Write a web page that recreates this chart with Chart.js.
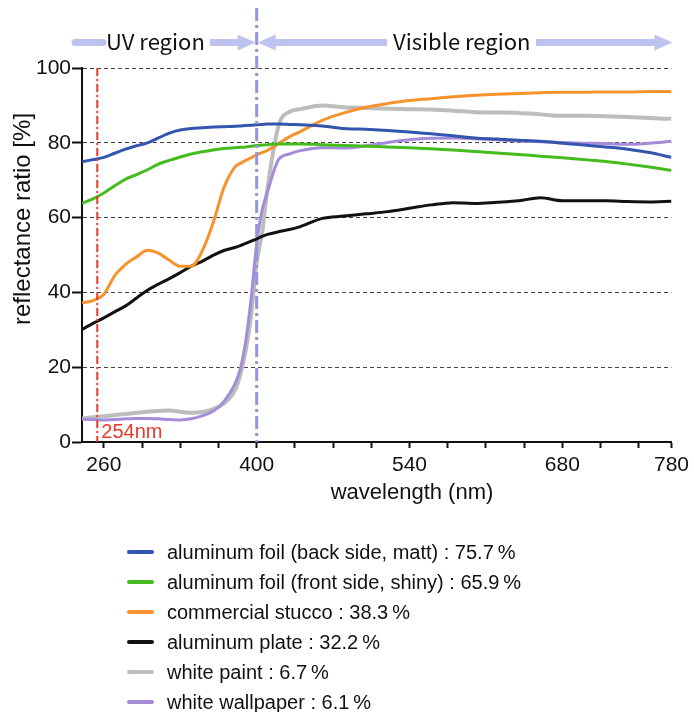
<!DOCTYPE html>
<html>
<head>
<meta charset="utf-8">
<script src="https://cdn.jsdelivr.net/npm/chart.js@4.4.1/dist/chart.umd.min.js"></script>
<style>
  html, body { margin: 0; padding: 0; background: #fff; }
  #wrap { position: relative; width: 694px; height: 712px; }
  #legend { position: absolute; left: 127px; top: 537px; font-family: "Liberation Sans", Arial, sans-serif; font-size: 20px; color: #111; }
  #legend div { height: 30px; display: flex; align-items: center; white-space: nowrap; }
  #legend .sw { display: inline-block; width: 27px; height: 4px; border-radius: 2px; margin-right: 13px; }
</style>
</head>
<body>
<div id="wrap">
  <canvas id="myChart" width="694" height="712"></canvas>
  <div id="legend"></div>
</div>
<script>
// wavelength (nm)
var wavelengths = [240,250,260,270,280,290,300,310,320,330,340,350,360,370,380,385,390,395,400,405,410,420,430,440,460,480,500,520,540,560,580,600,620,640,660,680,700,720,740,760,780];

// reflectance ratio (%)
var foilBack  = [74.9,75.5,76.1,77.2,78.3,79.2,80.0,81.3,82.6,83.4,83.8,84.0,84.2,84.3,84.4,84.5,84.6,84.7,84.8,84.9,85.0,85.0,84.9,84.8,84.5,83.8,83.6,83.3,82.9,82.4,81.9,81.3,81.0,80.7,80.4,79.9,79.4,78.9,78.3,77.4,76.1];
var foilFront = [63.8,65.0,66.6,68.5,70.3,71.5,72.8,74.3,75.3,76.2,77.0,77.6,78.1,78.5,78.7,78.8,78.9,79.1,79.3,79.4,79.5,79.7,79.7,79.7,79.5,79.3,79.1,78.9,78.7,78.4,78.1,77.7,77.3,76.9,76.4,76.0,75.5,75.0,74.3,73.5,72.6];
var stucco    = [37.2,37.8,39.5,44.5,47.5,49.5,51.3,50.5,48.6,47.0,47.0,51.0,58.5,68.0,73.5,74.5,75.3,76.0,76.8,77.4,78.0,79.8,81.6,83.0,86.0,88.0,89.5,90.5,91.3,91.8,92.3,92.7,93.0,93.2,93.4,93.5,93.5,93.6,93.6,93.7,93.7];
var alPlate   = [30.1,31.7,33.2,34.8,36.4,38.5,40.6,42.2,43.7,45.3,47.0,48.3,49.9,51.2,52.0,52.5,53.1,53.7,54.3,55.0,55.5,56.2,56.8,57.6,59.8,60.4,61.0,61.6,62.5,63.4,64.0,63.8,64.1,64.5,65.3,64.5,64.5,64.5,64.3,64.2,64.4];
var whitePaint = [6.3,6.6,6.9,7.2,7.5,7.8,8.1,8.3,8.4,8.1,7.8,8.0,8.8,10.3,13.8,18.0,24.5,34.0,48.0,56.0,68.0,84.5,88.3,89.0,90.0,89.5,89.3,89.1,89.0,88.9,88.6,88.2,88.1,88.0,87.6,87.2,87.2,87.1,86.9,86.6,86.4];
var wallpaper = [6.1,6.0,5.9,6.0,6.2,6.3,6.3,6.2,6.0,5.9,6.2,7.0,8.2,10.8,15.5,19.5,27.0,38.5,53.0,62.0,67.0,75.5,77.0,77.9,78.7,78.6,79.2,80.1,80.8,81.2,81.3,81.1,80.8,80.5,80.3,80.1,79.9,79.8,79.6,79.9,80.4];

var labels = [
  "aluminum foil (back side, matt) : 75.7\u2009%",
  "aluminum foil (front side, shiny) : 65.9\u2009%",
  "commercial stucco : 38.3\u2009%",
  "aluminum plate : 32.2\u2009%",
  "white paint : 6.7\u2009%",
  "white wallpaper : 6.1\u2009%"
];
var colors = ["#3256ad", "#46bb1d", "#f7922c", "#111111", "#bdbdbd", "#a58cd9"];

var xTicks = [260,295,330,365,400,435,470,505,540,575,610,645,680,715,750,780];
var xTickLabels = [260,400,540,680,780];
var yTicks = [0,20,40,60,80,100];
var uvLine = 254;
var visibleStart = 400;

var FONT = '"Liberation Sans", Arial, sans-serif';

function toPoints(values) {
  return values.map(function(v, i){ return {x: wavelengths[i], y: v}; });
}

var series = [foilBack, foilFront, stucco, alPlate, whitePaint, wallpaper];
var datasets = series.map(function(s, i){
  return {
    label: labels[i],
    data: toPoints(s),
    borderColor: colors[i],
    backgroundColor: colors[i],
    borderWidth: i == 4 ? 4 : 3,
    cubicInterpolationMode: 'monotone',
    pointRadius: 0,
    order: i == 5 ? 3.5 : i
  };
});

function dashLine(ctx, x, y1, y2, color, width, dash) {
  ctx.save();
  ctx.strokeStyle = color;
  ctx.lineWidth = width;
  ctx.setLineDash(dash);
  ctx.beginPath();
  ctx.moveTo(x, y1);
  ctx.lineTo(x, y2);
  ctx.stroke();
  ctx.restore();
}

function arrowHead(ctx, tipX, y, dir) {
  ctx.beginPath();
  ctx.moveTo(tipX, y);
  ctx.lineTo(tipX - dir * 18, y - 8);
  ctx.lineTo(tipX - dir * 18, y + 8);
  ctx.closePath();
  ctx.fill();
}

function shaft(ctx, x1, x2, y) {
  ctx.beginPath();
  ctx.moveTo(x1, y);
  ctx.lineTo(x2, y);
  ctx.stroke();
}

var annotations = {
  id: 'annotations',
  afterDatasetsDraw: function(chart) {
    var ctx = chart.ctx;
    var xs = chart.scales.x;
    var area = chart.chartArea;
    var xUv = xs.getPixelForValue(uvLine);
    var xVis = xs.getPixelForValue(visibleStart);

    // 254 nm marker
    dashLine(ctx, xUv, area.top, area.bottom, '#e53b2a', 2, [8, 3, 2, 3]);
    ctx.save();
    ctx.fillStyle = '#e53b2a';
    ctx.font = '20px ' + FONT;
    ctx.textAlign = 'left';
    ctx.textBaseline = 'alphabetic';
    ctx.fillText('254nm', xUv + 4, area.bottom - 4);
    ctx.restore();

    // UV / visible boundary
    dashLine(ctx, xVis, 8, area.bottom, '#9397dc', 3, [13, 4, 3, 4]);

    // region arrows
    var y = 42.5;
    ctx.save();
    ctx.strokeStyle = '#bec2ef';
    ctx.fillStyle = '#bec2ef';
    ctx.lineWidth = 7;
    ctx.lineCap = 'round';
    shaft(ctx, 75, 103, y);
    ctx.lineCap = 'butt';
    shaft(ctx, 210, xVis - 16, y);
    arrowHead(ctx, xVis - 1, y, 1);
    arrowHead(ctx, xVis + 1, y, -1);
    shaft(ctx, xVis + 16, 387, y);
    shaft(ctx, 536, area.right - 16, y);
    arrowHead(ctx, area.right + 1, y, 1);
    ctx.fillStyle = '#111';
    ctx.font = '22px "Noto Sans CJK JP", "Noto Sans", sans-serif';
    ctx.textAlign = 'left';
    ctx.textBaseline = 'alphabetic';
    ctx.fillText('UV region', 106, 50);
    ctx.fillText('Visible region', 393, 50);
    ctx.restore();

    // axis titles
    ctx.save();
    ctx.fillStyle = '#111';
    ctx.font = '22px ' + FONT;
    ctx.textAlign = 'center';
    ctx.textBaseline = 'alphabetic';
    ctx.fillText('wavelength (nm)', 412, 499);
    ctx.translate(23, 219);
    ctx.rotate(-Math.PI / 2);
    ctx.font = '24px ' + FONT;
    ctx.textBaseline = 'middle';
    ctx.fillText('reflectance ratio [%]', 0, 0);
    ctx.restore();
  }
};

var ctx = document.getElementById('myChart');
new Chart(ctx, {
  type: 'line',
  data: { datasets: datasets },
  options: {
    responsive: false,
    animation: false,
    layout: { padding: { left: 0, right: 21, top: 68, bottom: 200 } },
    plugins: { legend: { display: false }, tooltip: { enabled: false } },
    scales: {
      x: {
        type: 'linear',
        min: 240,
        max: 780,
        afterBuildTicks: function(scale) {
          scale.ticks = xTicks.map(function(v){ return {value: v}; });
        },
        afterFit: function(scale) { scale.height = 70; },
        ticks: {
          autoSkip: false,
          maxRotation: 0,
          padding: 5,
          color: '#111',
          font: { family: FONT, size: 21 },
          callback: function(v) { return xTickLabels.indexOf(v) >= 0 ? String(v) : ''; }
        },
        grid: { drawOnChartArea: false, tickLength: 6, tickColor: '#111', tickWidth: 2 },
        border: { color: '#111', width: 2 }
      },
      y: {
        min: 0,
        max: 100,
        afterBuildTicks: function(scale) {
          scale.ticks = yTicks.map(function(v){ return {value: v}; });
        },
        afterFit: function(scale) { scale.width = 82; },
        ticks: { padding: 1, color: '#111', font: { family: FONT, size: 21 } },
        grid: { color: '#444', lineWidth: 1, tickColor: '#111', tickWidth: 2, tickLength: 10 },
        border: { color: '#111', width: 2, dash: [4, 3] }
      }
    }
  },
  plugins: [annotations]
});

// legend below the chart
var legendEl = document.getElementById('legend');
labels.forEach(function(text, i){
  var row = document.createElement('div');
  var sw = document.createElement('span');
  sw.className = 'sw';
  sw.style.background = colors[i];
  row.appendChild(sw);
  row.appendChild(document.createTextNode(text));
  legendEl.appendChild(row);
});
</script>
</body>
</html>
